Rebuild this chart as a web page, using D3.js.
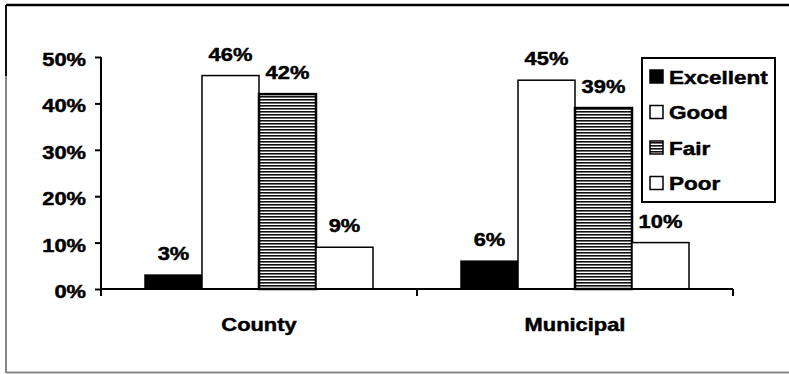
<!DOCTYPE html>
<html>
<head>
<meta charset="utf-8">
<script src="https://cdn.jsdelivr.net/npm/d3@7"></script>
<style>
  html, body { margin: 0; padding: 0; background: #fff; }
  svg { display: block; }
  text { font-family: "Liberation Sans", Arial, sans-serif; font-weight: bold; fill: #000; stroke: #000; stroke-width: 0.45px; }
</style>
</head>
<body>
<svg id="chart" width="789" height="374"></svg>
<script>
// Rating shares by government level
const categories = ["County", "Municipal"];
const seriesNames = ["Excellent", "Good", "Fair", "Poor"];
const excellent = [3, 6];
const good = [46, 45];
const fair = [42, 39];
const poor = [9, 10];
const yTicks = [0, 10, 20, 30, 40, 50];

const seriesValues = [excellent, good, fair, poor];

const svg = d3.select("#chart");
const stretch = 1.25; // horizontal text stretch of the typeface

// Fill patterns
const defs = svg.append("defs");
const stripes = defs.append("pattern")
  .attr("id", "stripes").attr("patternUnits", "userSpaceOnUse")
  .attr("width", 6).attr("height", 3);
stripes.append("rect").attr("width", 6).attr("height", 3).attr("fill", "#fff");
stripes.append("rect").attr("width", 6).attr("height", 1.6).attr("fill", "#111");

const fills = { Excellent: "#000", Good: "#fff", Fair: "url(#stripes)", Poor: "#fff" };

// Outer frame
svg.append("line").attr("x1", 6).attr("x2", 789).attr("y1", 5).attr("y2", 5)
  .attr("stroke", "#000").attr("stroke-width", 2.5);
svg.append("line").attr("x1", 6).attr("x2", 6).attr("y1", 5).attr("y2", 373)
  .attr("stroke", "#888").attr("stroke-width", 2);
svg.append("line").attr("x1", 6).attr("x2", 6).attr("y1", 5).attr("y2", 76)
  .attr("stroke", "#111").attr("stroke-width", 2);
svg.append("line").attr("x1", 6).attr("x2", 789).attr("y1", 372.5).attr("y2", 372.5)
  .attr("stroke", "#888").attr("stroke-width", 2);

// Scales
const x0 = d3.scaleBand().domain(categories).range([101, 733]);
const x1 = d3.scaleBand().domain(seriesNames).range([0, 228]);
const groupOffset = (x0.bandwidth() - 228) / 2;
const y = d3.scaleLinear().domain([0, 50]).range([289, 57]);

function stretchedText(sel, x, yPos, str, size, anchor) {
  return sel.append("text")
    .attr("transform", `translate(${x},${yPos}) scale(${stretch},1)`)
    .attr("text-anchor", anchor || "middle")
    .style("font-size", size + "px")
    .text(str);
}

// Bars
const groups = svg.selectAll("g.group").data(categories).join("g")
  .attr("class", "group")
  .attr("transform", d => `translate(${x0(d) + groupOffset},0)`);

groups.each(function(cat, ci) {
  const g = d3.select(this);
  seriesNames.forEach((s, si) => {
    const v = seriesValues[si][ci];
    const bx = x1(s), bw = x1.bandwidth();
    g.append("rect")
      .attr("x", bx).attr("y", y(v))
      .attr("width", bw).attr("height", y(0) - y(v))
      .attr("fill", fills[s])
      .attr("stroke", "#000")
      .attr("stroke-width", s === "Fair" ? 2.5 : 1.5);
    stretchedText(g, bx + bw / 2, y(v) - 15, v + "%", 17.5);
  });
});

// Y axis
const yAxis = d3.axisLeft(y).tickValues(yTicks).tickSize(6).tickFormat(d => "");
const yg = svg.append("g").attr("transform", "translate(101,0)").call(yAxis);
yg.select(".domain").attr("stroke", "#000").attr("stroke-width", 2).attr("d", `M0,${y(50)}V${y(0)}`);
yg.selectAll(".tick line").attr("stroke", "#000").attr("stroke-width", 2);
yTicks.forEach(t => stretchedText(svg, 86, y(t) + 9, t + "%", 17.5, "end"));

// X axis
const xg = svg.append("g").attr("transform", `translate(0,${y(0)})`);
xg.append("line").attr("x1", 101).attr("x2", 733).attr("y1", 0).attr("y2", 0)
  .attr("stroke", "#000").attr("stroke-width", 2);
const xEdges = [x0.range()[0]].concat(categories.map(c => x0(c) + x0.bandwidth()));
xg.selectAll("line.xtick").data(xEdges).join("line").attr("class", "xtick")
  .attr("x1", d => d).attr("x2", d => d).attr("y1", 0).attr("y2", 7)
  .attr("stroke", "#000").attr("stroke-width", 2);
categories.forEach(c => stretchedText(svg, x0(c) + x0.bandwidth() / 2, 331, c, 17.5));

// Legend
const lg = svg.append("g").attr("transform", "translate(642,58)");
lg.append("rect").attr("width", 133).attr("height", 144)
  .attr("fill", "#fff").attr("stroke", "#000").attr("stroke-width", 2);
seriesNames.forEach((s, i) => {
  const yy = 12 + i * 35.5;
  lg.append("rect").attr("x", 8).attr("y", yy).attr("width", 13).attr("height", 13)
    .attr("fill", fills[s]).attr("stroke", "#000").attr("stroke-width", 1.5);
  stretchedText(lg, 27, yy + 13.5, s, 18, "start");
});
</script>
</body>
</html>
